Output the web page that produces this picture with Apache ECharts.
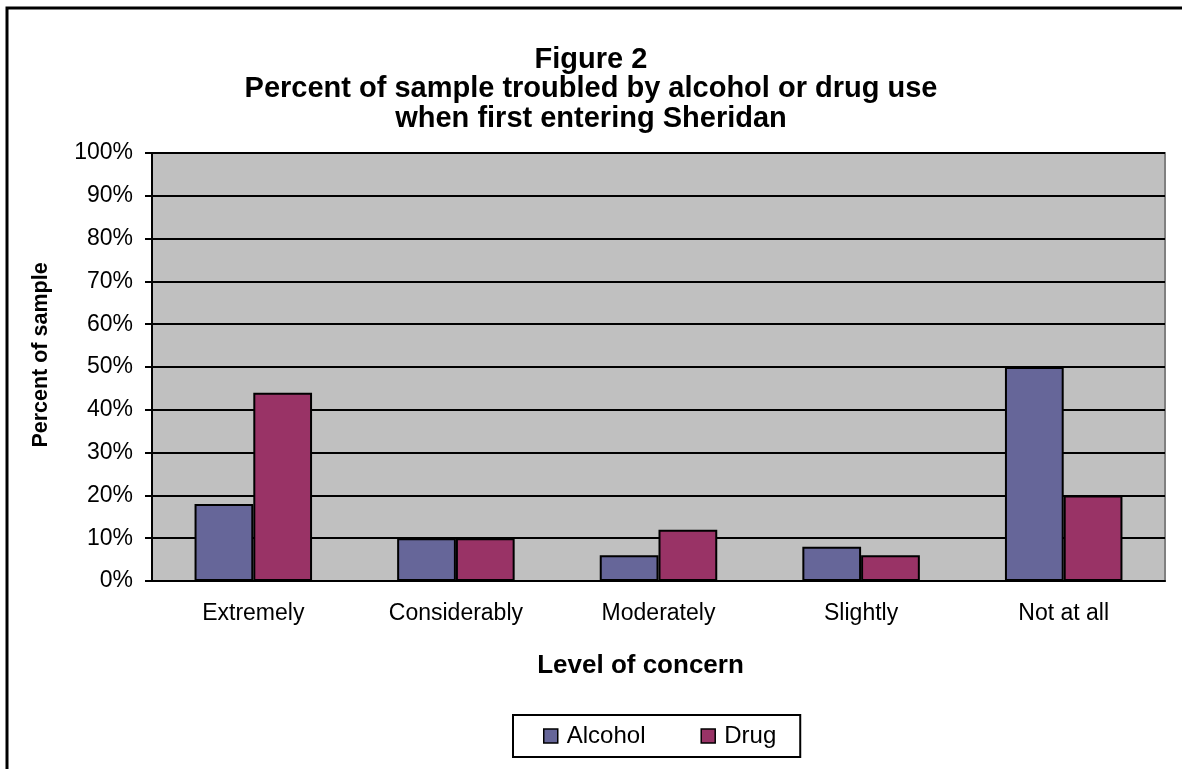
<!DOCTYPE html>
<html>
<head>
<meta charset="utf-8">
<script src="https://cdn.jsdelivr.net/npm/echarts@6/dist/echarts.min.js"></script>
<style>
  html, body { margin: 0; padding: 0; background: #fff; }
  #main { width: 1182px; height: 769px; }
</style>
</head>
<body>
<div id="main"></div>
<script>
var chart = echarts.init(document.getElementById("main"));

// data
var categories = ["Extremely", "Considerably", "Moderately", "Slightly", "Not at all"];
var alcohol = [18, 10, 6, 8, 50];
var drug = [44, 10, 12, 6, 20];
var seriesNames = ["Alcohol", "Drug"];
var yTicks = [0, 10, 20, 30, 40, 50, 60, 70, 80, 90, 100];

var font = "Liberation Sans, Arial, sans-serif";

var option = {
  backgroundColor: "#fff",
  animation: false,
  title: {
    text: "Figure 2\nPercent of sample troubled by alcohol or drug use\nwhen first entering Sheridan",
    left: "center",
    top: 40,
    textStyle: {
      fontFamily: font,
      fontSize: 29,
      fontWeight: "bold",
      lineHeight: 29.5,
      color: "#000",
    },
  },
  // outer frame of the chart sheet (only left and top edges are visible)
  graphic: [
    {
      type: "rect",
      shape: { x: 7, y: 8, width: 1300, height: 900 },
      style: { fill: null, stroke: "#000", lineWidth: 3 },
      silent: true,
    },
  ],
  grid: {
    left: 152,
    top: 153,
    right: 17,
    bottom: 188,
    show: true,
    backgroundColor: "#c0c0c0",
    borderColor: "#808080",
    borderWidth: 2,
  },
  legend: {
    data: seriesNames,
    left: 513,
    top: 715,
    padding: [9, 24, 9, 30],
    itemGap: 55,
    itemWidth: 14,
    itemHeight: 14,
    icon: "rect",
    borderColor: "#000",
    borderWidth: 2,
    backgroundColor: "#fff",
    itemStyle: { borderColor: "#000", borderWidth: 1.5 },
    textStyle: { fontFamily: font, fontSize: 24, color: "#000", padding: [0, 0, 0, 4] },
  },
  xAxis: {
    type: "category",
    data: categories,
    name: "Level of concern",
    nameLocation: "middle",
    nameGap: 72,
    nameTextStyle: { fontFamily: font, fontSize: 26, fontWeight: "bold", color: "#000", padding: [0, 36, 0, 0] },
    axisLine: { lineStyle: { color: "#000", width: 2 } },
    axisTick: { length: 9, lineStyle: { color: "#000", width: 2 } },
    axisLabel: { margin: 21, fontFamily: font, fontSize: 23, color: "#000" },
  },
  yAxis: {
    type: "value",
    min: yTicks[0],
    max: yTicks[yTicks.length - 1],
    interval: 10,
    name: "Percent of sample",
    nameLocation: "middle",
    nameGap: 100,
    nameTextStyle: { fontFamily: font, fontSize: 21.5, fontWeight: "bold", color: "#000", padding: [0, 0, 0, 24] },
    axisLine: { show: true, lineStyle: { color: "#000", width: 2 } },
    axisTick: { show: true, length: 7, lineStyle: { color: "#000", width: 2 } },
    axisLabel: { margin: 19, fontFamily: font, fontSize: 23, color: "#000", formatter: "{value}%" },
    splitLine: { lineStyle: { color: "#000", width: 2 } },
  },
  series: [
    {
      name: seriesNames[0],
      type: "bar",
      data: alcohol,
      barGap: "0%",
      barCategoryGap: "42%",
      itemStyle: { color: "#666699", borderColor: "#000", borderWidth: 2 },
    },
    {
      name: seriesNames[1],
      type: "bar",
      data: drug,
      itemStyle: { color: "#993366", borderColor: "#000", borderWidth: 2 },
    },
  ],
};

chart.setOption(option);
</script>
</body>
</html>
